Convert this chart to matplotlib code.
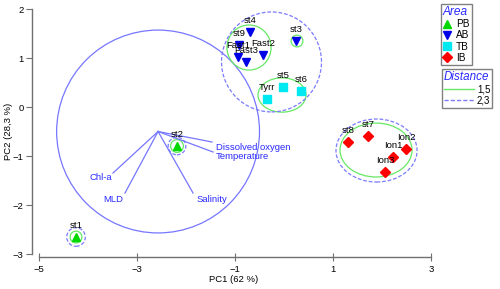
import matplotlib
matplotlib.use("Agg")
from matplotlib import pyplot as plt
from matplotlib.patches import Ellipse
from matplotlib.lines import Line2D

plt.rcParams['font.family'] = ['Liberation Sans', 'DejaVu Sans']

# sample scores on PC1 / PC2, grouped by area
pb_names = ["st1", "st2"]
pb_x = [-4.245, -2.184]
pb_y = [-2.653, -0.796]

ab_names = ["st4", "st9", "Fast1", "Fast3", "Fast2", "st3"]
ab_x = [-0.694, -0.918, -0.939, -0.776, -0.429, 0.245]
ab_y = [1.531, 1.265, 1.02, 0.918, 1.061, 1.347]

tb_names = ["st5", "st6", "Tyrr"]
tb_x = [-0.02, 0.347, -0.347]
tb_y = [0.408, 0.327, 0.163]

ib_names = ["st8", "st7", "Ion2", "Ion1", "Ion3"]
ib_x = [1.306, 1.714, 2.49, 2.224, 2.061]
ib_y = [-0.714, -0.592, -0.857, -1.02, -1.327]

# environmental vectors (from the circle centre)
vec_names = ["Dissolved oxygen", "Temperature", "Salinity", "MLD", "Chl-a"]
vec_x = [-1.469, -1.449, -1.857, -3.245, -3.49]
vec_y = [-0.714, -0.918, -1.755, -1.755, -1.347]
vec_origin = (-2.57, -0.50)
corr_radius = 2.07

# distance contours: centre x, centre y, width, height
d15_cx = [-4.245, -2.184, -0.714, 0.265, -0.04, 1.878]
d15_cy = [-2.653, -0.796, 1.214, 1.347, 0.245, -0.878]
d15_w = [0.24, 0.26, 0.90, 0.24, 0.98, 1.47]
d15_h = [0.24, 0.26, 0.92, 0.24, 0.70, 1.10]

d23_cx = [-4.245, -2.184, -0.255, 1.888]
d23_cy = [-2.653, -0.796, 0.92, -0.888]
d23_w = [0.38, 0.36, 2.04, 1.654]
d23_h = [0.38, 0.36, 2.04, 1.286]

green_line = '#66e866'
blue_dash = '#7b7bff'
vec_col = '#7676ff'
txt_blue = '#2a2aff'
axis_col = '#707070'
fs = 6.8

fig = plt.figure(figsize=(5, 2.89), dpi=100)
ax = fig.add_axes([32/500, 32/289, 468/500, 257/289])
ax.set_xlim(-5.143, 4.408)
ax.set_ylim(-3.061, 2.184)

# correlation circle and vectors
ax.add_patch(Ellipse(vec_origin, 2*corr_radius, 2*corr_radius, fill=False,
                     ec=vec_col, lw=0.9))
for name, vx, vy in zip(vec_names, vec_x, vec_y):
    ax.plot([vec_origin[0], vx], [vec_origin[1], vy], color=vec_col, lw=0.9)

ax.text(vec_x[0] + 0.08, vec_y[0] - 0.12, vec_names[0], color=txt_blue,
        fontsize=fs, ha='left', va='center')
ax.text(vec_x[1] + 0.06, vec_y[1] - 0.10, vec_names[1], color=txt_blue,
        fontsize=fs, ha='left', va='center')
ax.text(vec_x[2] + 0.08, vec_y[2] - 0.14, vec_names[2], color=txt_blue,
        fontsize=fs, ha='left', va='center')
ax.text(vec_x[3] - 0.03, vec_y[3] - 0.14, vec_names[3], color=txt_blue,
        fontsize=fs, ha='right', va='center')
ax.text(vec_x[4] - 0.02, vec_y[4] - 0.10, vec_names[4], color=txt_blue,
        fontsize=fs, ha='right', va='center')

# distance contours
for cx, cy, w, h in zip(d15_cx, d15_cy, d15_w, d15_h):
    ax.add_patch(Ellipse((cx, cy), w, h, fill=False, ec=green_line, lw=0.9))
for cx, cy, w, h in zip(d23_cx, d23_cy, d23_w, d23_h):
    ax.add_patch(Ellipse((cx, cy), w, h, fill=False, ec=blue_dash, lw=0.9,
                         ls=(0, (3, 1.5))))

# samples
ms = 6
ax.plot(pb_x, pb_y, '^', color='#00d800', ms=ms, ls='none')
ax.plot(ab_x, ab_y, 'v', color='#0000e6', ms=ms, ls='none')
ax.plot(tb_x, tb_y, 's', color='#00e8f0', ms=5.5, ls='none')
ax.plot(ib_x, ib_y, 'D', color='#ff0000', ms=5, ls='none')

for names, xs, ys in [(pb_names, pb_x, pb_y), (ab_names, ab_x, ab_y),
                      (tb_names, tb_x, tb_y), (ib_names, ib_x, ib_y)]:
    for n, x, y in zip(names, xs, ys):
        ax.annotate(n, (x, y), xytext=(0, 8.6), textcoords='offset points',
                    ha='center', va='center', fontsize=fs, color='black')

# axes styling
for s in ['top', 'right']:
    ax.spines[s].set_visible(False)
ax.spines['left'].set_bounds(-3, 2)
ax.spines['bottom'].set_bounds(-5, 3)
for s in ['left', 'bottom']:
    ax.spines[s].set_color(axis_col)
    ax.spines[s].set_linewidth(1)
ax.set_xticks([-5, -3, -1, 1, 3])
ax.set_yticks([-3, -2, -1, 0, 1, 2])
ax.tick_params(axis='x', direction='inout', length=6, color=axis_col,
               labelsize=fs, pad=2.5)
ax.tick_params(axis='y', direction='out', length=4, color=axis_col,
               labelsize=fs, pad=2)
ax.set_xlabel("PC1 (62 %)", fontsize=fs, va='center')
ax.set_ylabel("PC2 (28,3 %)", fontsize=fs)
ax.xaxis.set_label_coords((234 - 32) / 468, -(279 - 257) / 257)
ax.yaxis.set_label_coords((13 - 32) / 468, 0.49)

# legends
area_handles = [
    Line2D([], [], marker='^', color='#00d800', ls='none', ms=6),
    Line2D([], [], marker='v', color='#0000e6', ls='none', ms=6),
    Line2D([], [], marker='s', color='#00e8f0', ls='none', ms=5.5),
    Line2D([], [], marker='D', color='#ff0000', ls='none', ms=5),
]
leg1 = fig.legend(area_handles, ["PB", "AB", "TB", "IB"], loc='upper left',
                  bbox_to_anchor=(441/500, 1 - 4/289), fontsize=7.2,
                  title="Area", fancybox=False, edgecolor='#808080',
                  framealpha=1, handlelength=0.8, handletextpad=0.5,
                  labelspacing=0.12, borderpad=0.2, borderaxespad=0,
                  alignment='left',
                  title_fontproperties={'size': 8.6, 'style': 'italic'})
leg1.get_title().set_color(txt_blue)
leg1.get_frame().set_linewidth(1)

dist_handles = [
    Line2D([], [], color=green_line, lw=1),
    Line2D([], [], color=blue_dash, lw=1, ls=(0, (3, 1.5))),
]
leg2 = fig.legend(dist_handles, ["1,5", "2,3"], loc='upper left',
                  bbox_to_anchor=(442/500, 1 - 69/289), fontsize=7,
                  title="Distance", fancybox=False, edgecolor='#808080',
                  framealpha=1, handlelength=3.1, handletextpad=0.3,
                  labelspacing=0.15, borderpad=0.2, borderaxespad=0,
                  alignment='left',
                  title_fontproperties={'size': 8.4, 'style': 'italic'})
leg2.get_title().set_color(txt_blue)
leg2.get_frame().set_linewidth(1)

fig.savefig('out.png', dpi=100)
